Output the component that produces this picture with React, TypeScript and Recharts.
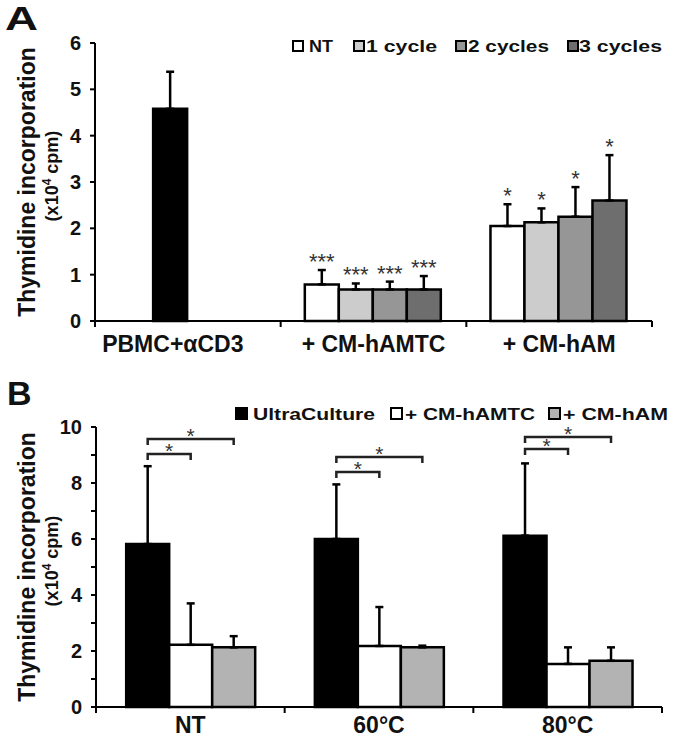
import React from 'react';
import { BarChart, Bar, XAxis, YAxis, ErrorBar, LabelList, Legend } from 'recharts';

// ---------- Panel A data ----------
const catsA = ['PBMC+αCD3', '+ CM-hAMTC', '+ CM-hAM'];
const seriesNamesA = ['NT', '1 cycle', '2 cycles', '3 cycles'];
const ctrlA = [4.58, null, null];
const ctrlErrA = [0.8, null, null];
const ntA = [null, 0.79, 2.05];
const ntErrA = [null, 0.31, 0.47];
const c1A = [null, 0.68, 2.13];
const c1ErrA = [null, 0.13, 0.3];
const c2A = [null, 0.68, 2.25];
const c2ErrA = [null, 0.17, 0.64];
const c3A = [null, 0.68, 2.6];
const c3ErrA = [null, 0.29, 0.98];
const ntSigA = [null, '***', '*'];
const c1SigA = [null, '***', '*'];
const c2SigA = [null, '***', '*'];
const c3SigA = [null, '***', '*'];
const yTicksA = [0, 1, 2, 3, 4, 5, 6];

// ---------- Panel B data ----------
const catsB = ['NT', '60°C', '80°C'];
const seriesNamesB = ['UltraCulture', '+ CM-hAMTC', '+ CM-hAM'];
const ucB = [5.82, 6.0, 6.12];
const ucErrB = [2.78, 1.95, 2.58];
const amtcB = [2.22, 2.18, 1.54];
const amtcErrB = [1.48, 1.39, 0.59];
const amB = [2.13, 2.13, 1.65];
const amErrB = [0.4, 0.06, 0.48];
const bracketLowB = [9.04, 8.39, 9.21];
const bracketHighB = [9.57, 8.93, 9.64];
const bracketSigLowB = ['*', '*', '*'];
const bracketSigHighB = ['*', '*', '*'];
const yTicksB = [0, 1, 2, 3, 4, 5, 6, 7, 8, 9, 10];

const pair = (e: number | null) => (e == null ? null : [0, e]);

const dataA = catsA.map((cat, i) => ({
  cat,
  ctrl: ctrlA[i], ctrlErr: pair(ctrlErrA[i]),
  nt: ntA[i], ntErr: pair(ntErrA[i]), ntLab: { v: ntA[i], e: ntErrA[i], s: ntSigA[i] },
  c1: c1A[i], c1Err: pair(c1ErrA[i]), c1Lab: { v: c1A[i], e: c1ErrA[i], s: c1SigA[i] },
  c2: c2A[i], c2Err: pair(c2ErrA[i]), c2Lab: { v: c2A[i], e: c2ErrA[i], s: c2SigA[i] },
  c3: c3A[i], c3Err: pair(c3ErrA[i]), c3Lab: { v: c3A[i], e: c3ErrA[i], s: c3SigA[i] },
}));

const dataB = catsB.map((cat, i) => ({
  cat,
  uc: ucB[i], ucErr: [0, ucErrB[i]],
  amtc: amtcB[i], amtcErr: [0, amtcErrB[i]],
  am: amB[i], amErr: [0, amErrB[i]],
  br: { v: ucB[i], lo: bracketLowB[i], hi: bracketHighB[i], sLo: bracketSigLowB[i], sHi: bracketSigHighB[i] },
}));

const FONT = '"Liberation Sans", Arial, Helvetica, sans-serif';
const colorsA = { ctrl: '#000000', nt: '#ffffff', c1: '#cccccc', c2: '#969696', c3: '#6e6e6e' };
const colorsB = { uc: '#000000', amtc: '#ffffff', am: '#b3b3b3' };

// legend layout (x of square, text x, text width)
const legendLayoutA = [
  { sq: 293, tx: 309, tw: 24 },
  { sq: 354, tx: 366, tw: 71 },
  { sq: 456, tx: 468, tw: 81 },
  { sq: 568, tx: 579, tw: 83 },
];
const legendLayoutB = [
  { sq: 236, tx: 253, tw: 122 },
  { sq: 391, tx: 405, tw: 130 },
  { sq: 549, tx: 563, tw: 105 },
];

const makeLegend = (names: string[], layout: any[], sqSize: number, sqY: number, baseY: number, fs: number) => (props: any) => {
  const payload = props.payload || [];
  return (
    <svg width={674} height={34} style={{ display: 'block', overflow: 'visible' }}>
      {names.map((name, i) => {
        const L = layout[i];
        const p = payload.find((q: any) => q.value === name);
        const color = p ? (p.payload && p.payload.fill) || p.color : '#fff';
        return (
          <g key={name}>
            <rect x={L.sq} y={sqY} width={sqSize} height={sqSize} fill={color} stroke="#000" strokeWidth={2} />
            <text x={L.tx} y={baseY} fontSize={fs} fontWeight="bold" fill="#111" fontFamily={FONT}
              textLength={L.tw} lengthAdjust="spacingAndGlyphs">{name}</text>
          </g>
        );
      })}
    </svg>
  );
};

// category tick: label at band centre, boundary tick marks at band edges
const makeCatTick = (labelDy: number, shifts: number[]) => (props: any) => {
  const { x, y, payload, index } = props;
  const half = payload && payload.offset ? payload.offset : 0;
  const i = index ?? payload.index ?? 0;
  return (
    <g>
      {i === 0 && <line x1={x - half} x2={x - half} y1={y} y2={y + 6} stroke="#000" strokeWidth={2} />}
      <line x1={x + half} x2={x + half} y1={y} y2={y + 6} stroke="#000" strokeWidth={2} />
      <text x={x + (shifts[i] || 0)} y={y + labelDy} textAnchor="middle" fontSize={23} fontWeight="bold" fill="#111" fontFamily={FONT}>
        {payload.value}
      </text>
    </g>
  );
};

const YLabel = (props: any) => {
  const vb = props.viewBox || {};
  const cy = (vb.y ?? 0) + (vb.height ?? 0) / 2;
  return (
    <g>
      <text transform={`rotate(-90 35 ${cy})`} x={35} y={cy} textAnchor="middle" fontSize={23} fontWeight="bold" fill="#111" fontFamily={FONT}>
        Thymidine incorporation
      </text>
      <text transform={`rotate(-90 58 ${cy - 6})`} x={58} y={cy - 6} textAnchor="middle" fontSize={18} fontWeight="bold" fill="#111" fontFamily={FONT}>
        (x10<tspan fontSize={12} dy={-7}>4</tspan><tspan dy={7}> cpm)</tspan>
      </text>
    </g>
  );
};

const getBox = (props: any) => {
  const vb = props.viewBox && props.viewBox.width != null ? props.viewBox : props;
  return { x: +vb.x, y: +vb.y, width: +vb.width, height: +vb.height };
};

const starLabel = (props: any) => {
  const lab = props.value;
  if (!lab || lab.v == null || lab.e == null || !lab.s) return null;
  const { x, y, width, height } = getBox(props);
  if (!height) return null;
  const k = height / lab.v;
  const top = y - lab.e * k;
  return (
    <text x={x + width / 2} y={top - 1} textAnchor="middle" fontSize={22} fill="#333" fontFamily={FONT}>{lab.s}</text>
  );
};

const bracketLabel = (props: any) => {
  const b = props.value;
  if (!b) return null;
  const { x, y, width, height } = getBox(props);
  const k = height / b.v;
  const base = y + height;
  const yl = base - b.lo * k;
  const yh = base - b.hi * k;
  const c0 = x + width / 2;
  const c1 = x + width * 1.5;
  const c2 = x + width * 2.5;
  const leg = 6;
  return (
    <g>
      <path d={`M${c0},${yl + leg} V${yl} H${c1} V${yl + leg}`} fill="none" stroke="#222" strokeWidth={2.5} />
      <path d={`M${c0},${yh + leg} V${yh} H${c2} V${yh + leg}`} fill="none" stroke="#222" strokeWidth={2.5} />
      <text x={(c0 + c1) / 2} y={yl + 4} textAnchor="middle" fontSize={21} fill="#333" fontFamily={FONT}>{b.sLo}</text>
      <text x={(c0 + c2) / 2} y={yh + 4} textAnchor="middle" fontSize={21} fill="#333" fontFamily={FONT}>{b.sHi}</text>
    </g>
  );
};

const axisTickStyle = { fontSize: 20, fontWeight: 'bold', fill: '#111', fontFamily: FONT } as any;
const errStyle = { stroke: '#000', strokeWidth: 2.5, width: 4 };

export default function App() {
  return (
    <div style={{ position: 'absolute', left: 0, top: 0, width: 674, height: 739, background: '#fff', fontFamily: FONT, overflow: 'hidden' }}>
      <div style={{ position: 'absolute', left: 0, top: 0 }}>
        <BarChart width={674} height={360} data={dataA} margin={{ top: 43, right: 22, bottom: 0, left: 0 }}
          barGap={0} barCategoryGap="13%">
          <XAxis dataKey="cat" interval={0} tickLine={false} tickSize={0} tickMargin={0} height={39}
            axisLine={{ stroke: '#000', strokeWidth: 2 }}
            tick={makeCatTick(31, [-15, 0, 0])} />
          <YAxis type="number" domain={[0, 6]} ticks={yTicksA} interval={0} width={95}
            tick={axisTickStyle} tickSize={5} tickMargin={9}
            tickLine={{ stroke: '#000', strokeWidth: 2 }} axisLine={{ stroke: '#000', strokeWidth: 2 }}
            label={<YLabel />} />
          <Legend layout="horizontal" verticalAlign="middle" align="center"
            wrapperStyle={{ top: 30, left: 0, width: 674 }}
            content={makeLegend(seriesNamesA, legendLayoutA, 10, 11, 22, 17)} />
          <Bar dataKey="nt" name={seriesNamesA[0]} stackId="a" fill={colorsA.nt} stroke="#000" strokeWidth={2.5} isAnimationActive={false}>
            <ErrorBar dataKey="ntErr" direction="y" {...errStyle} />
            <LabelList dataKey="ntLab" content={starLabel} />
          </Bar>
          <Bar dataKey="c1" name={seriesNamesA[1]} stackId="b" fill={colorsA.c1} stroke="#000" strokeWidth={2.5} isAnimationActive={false}>
            <ErrorBar dataKey="c1Err" direction="y" {...errStyle} />
            <LabelList dataKey="c1Lab" content={starLabel} />
          </Bar>
          <Bar dataKey="ctrl" name="PBMC+αCD3" stackId="b" legendType="none" fill={colorsA.ctrl} stroke="#000" strokeWidth={2.5} isAnimationActive={false}>
            <ErrorBar dataKey="ctrlErr" direction="y" {...errStyle} />
          </Bar>
          <Bar dataKey="c2" name={seriesNamesA[2]} stackId="c" fill={colorsA.c2} stroke="#000" strokeWidth={2.5} isAnimationActive={false}>
            <ErrorBar dataKey="c2Err" direction="y" {...errStyle} />
            <LabelList dataKey="c2Lab" content={starLabel} />
          </Bar>
          <Bar dataKey="c3" name={seriesNamesA[3]} stackId="d" fill={colorsA.c3} stroke="#000" strokeWidth={2.5} isAnimationActive={false}>
            <ErrorBar dataKey="c3Err" direction="y" {...errStyle} />
            <LabelList dataKey="c3Lab" content={starLabel} />
          </Bar>
        </BarChart>
      </div>
      <div style={{ position: 'absolute', left: 0, top: 350 }}>
        <BarChart width={674} height={389} data={dataB} margin={{ top: 77, right: 12, bottom: 0, left: 0 }}
          barGap={0} barCategoryGap="16%">
          <XAxis dataKey="cat" interval={0} tickLine={false} tickSize={0} tickMargin={0} height={32}
            axisLine={{ stroke: '#000', strokeWidth: 2 }}
            tick={makeCatTick(26, [0, 0, 0])} />
          <YAxis type="number" domain={[0, 10]} ticks={yTicksB} interval={0} width={96}
            tick={axisTickStyle} tickSize={5} tickMargin={9}
            tickFormatter={(v: number) => (v % 2 === 0 ? String(v) : '')}
            tickLine={{ stroke: '#000', strokeWidth: 2 }} axisLine={{ stroke: '#000', strokeWidth: 2 }}
            label={<YLabel />} />
          <Legend layout="horizontal" verticalAlign="middle" align="center"
            wrapperStyle={{ top: 45, left: 0, width: 674 }}
            content={makeLegend(seriesNamesB, legendLayoutB, 11, 13, 25, 17)} />
          <Bar dataKey="uc" name={seriesNamesB[0]} fill={colorsB.uc} stroke="#000" strokeWidth={2.5} isAnimationActive={false}>
            <ErrorBar dataKey="ucErr" direction="y" {...errStyle} />
            <LabelList dataKey="br" content={bracketLabel} />
          </Bar>
          <Bar dataKey="amtc" name={seriesNamesB[1]} fill={colorsB.amtc} stroke="#000" strokeWidth={2.5} isAnimationActive={false}>
            <ErrorBar dataKey="amtcErr" direction="y" {...errStyle} />
          </Bar>
          <Bar dataKey="am" name={seriesNamesB[2]} fill={colorsB.am} stroke="#000" strokeWidth={2.5} isAnimationActive={false}>
            <ErrorBar dataKey="amErr" direction="y" {...errStyle} />
          </Bar>
        </BarChart>
      </div>
      <svg width={674} height={739} style={{ position: 'absolute', left: 0, top: 0, pointerEvents: 'none' }}>
        <text x={5} y={30} fontSize={34} fontWeight="bold" fill="#111" fontFamily={FONT} textLength={33} lengthAdjust="spacingAndGlyphs">A</text>
        <text x={7} y={405} fontSize={34} fontWeight="bold" fill="#111" fontFamily={FONT}>B</text>
      </svg>
    </div>
  );
}
